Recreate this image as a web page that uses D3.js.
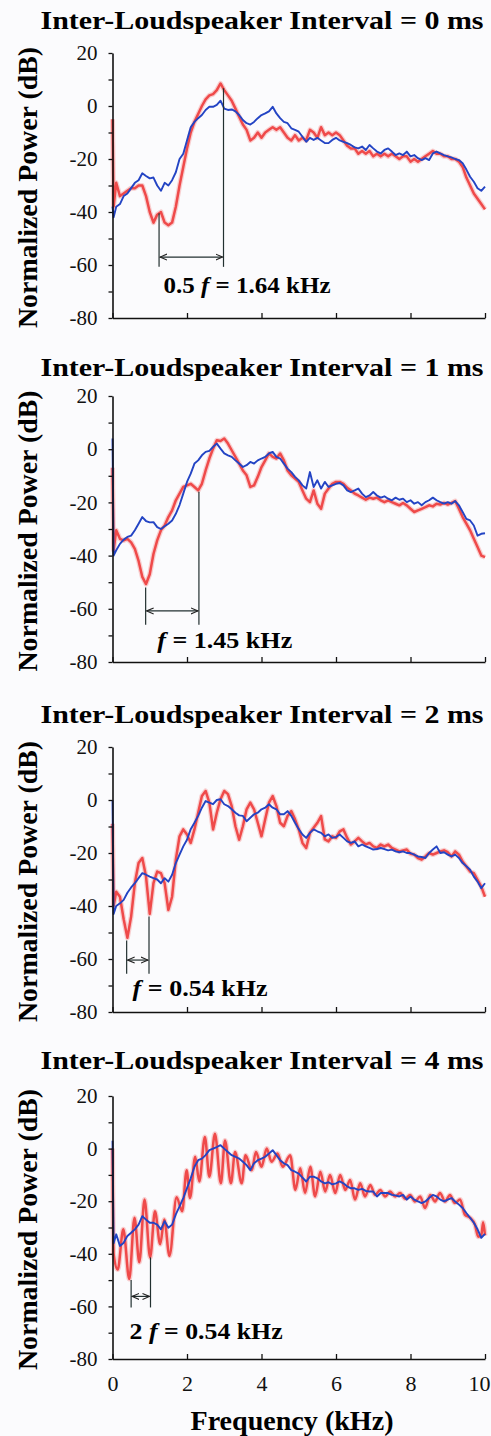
<!DOCTYPE html>
<html>
<head>
<meta charset="utf-8">
<script src="https://cdn.jsdelivr.net/npm/d3@7/dist/d3.min.js"></script>
<style>
  html, body { margin: 0; padding: 0; background: #fbfbfd; }
  svg { display: block; }
</style>
</head>
<body>
<svg id="chart" width="491" height="1436"></svg>
<script>
const SERIF = '"Liberation Serif", "Times New Roman", serif';

// Frequency grid (kHz) used by the blue curves and the red curves of panels 1-3
const freqGrid = [0, 0.03].concat(d3.range(1, 101).map(i => i / 10));

const titles = [
    "Inter-Loudspeaker Interval = 0 ms",
    "Inter-Loudspeaker Interval = 1 ms",
    "Inter-Loudspeaker Interval = 2 ms",
    "Inter-Loudspeaker Interval = 4 ms"
];

// Panel 1 (0 ms)
const blue0 = [-38, -42,
    -38, -37, -34, -33, -31, -29, -28, -25.4, -26.4, -27.3,
    -27, -30, -32, -29, -30, -28, -25, -20, -18, -13,
    -8, -6, -4.6, -3.4, -1.5, -0.3, -0.3, 0.4, 2, -1,
    -1.5, -1.3, -2, -3.4, -5.3, -6.5, -7, -6, -4.6, -3.4,
    -2.8, -2, -0.3, -2.8, -4.6, -6, -6.5, -8.4, -9, -9.7,
    -11.6, -13.5, -12, -12.8, -12, -13, -14, -14, -12.8, -12,
    -13, -13.5, -14, -14.7, -15.6, -16, -15.3, -16.6, -14.7, -16,
    -17.2, -17.9, -16.6, -16, -17.2, -18.5, -17.9, -18.5, -17.2, -19,
    -18.5, -19.7, -20.4, -19.7, -20.4, -17.9, -17.2, -17.9, -18.5, -19,
    -19.4, -20, -20.4, -21.6, -24, -26.7, -28.6, -31, -32, -30.4];
const red0 = [-5, -38,
    -29, -34, -33, -32, -31, -31, -30, -30, -34, -40,
    -44, -41, -40, -44, -45, -44, -38, -30, -23, -16,
    -10, -6, -3, 0, 2.5, 4, 4.5, 6, 8.5, 6,
    4, 2, -1, -4, -7, -9, -13, -12, -10, -12,
    -10, -9, -8, -9, -8, -10, -12, -13, -11, -13,
    -12, -13, -9, -10, -12, -8, -11, -10, -11, -10,
    -11, -13, -15, -16, -16, -18, -17, -18, -17, -19,
    -18, -19, -18, -19, -18, -19, -20, -19, -19, -21,
    -20, -21, -20, -19, -18, -17, -18, -18, -19, -19,
    -20, -20, -21, -23, -27, -30, -33, -35, -37, -39];

// Panel 2 (1 ms)
const blue1 = [4, -40,
    -38, -35.6, -34, -33, -32.5, -30.5, -28, -25.5, -27, -27.5,
    -27.4, -29.3, -30, -29, -28, -26.8, -24.3, -21, -16.7, -12.3,
    -9.2, -5.4, -4.2, -2.3, -1, -0.6, 0.9, 2.1, 0.2, -1.6,
    -2.3, -2.9, -4.2, -5.4, -6.7, -6, -4.8, -5.4, -4.2, -3.5,
    -2.9, -1.6, -1, -2.9, -3.5, -5.4, -7.3, -8.6, -10.4, -11.7,
    -13.6, -14.8, -8.6, -14.2, -11.7, -14.8, -12.3, -14.2, -13.6, -13,
    -12.7, -13.6, -15.5, -16.1, -15.5, -14.8, -16.7, -18, -17.4, -16.1,
    -17.4, -18.2, -17.7, -18.6, -19.2, -18.2, -19, -18.6, -19.9, -19.2,
    -20.5, -19.9, -21.1, -19.9, -19.2, -18.2, -19.2, -19.9, -20.5, -19.9,
    -20.5, -19.5, -21.1, -23.6, -26.2, -26.8, -28.7, -32.5, -31.8, -31.6];
const red1 = [-7, -38,
    -30.5, -33.7, -34.3, -33.7, -35, -37.5, -42, -48, -50.7, -47,
    -39.4, -34.3, -30.5, -28.7, -25.5, -23, -19.2, -16.7, -14.2, -13.6,
    -13, -14.2, -15.5, -13, -8, -3.5, 0.2, 3.4, 3.1, 4,
    2.1, -0.4, -2.9, -5.4, -8, -9.8, -14.2, -13.6, -10.4, -6.7,
    -4.2, -1.6, -2.9, -3.5, -1.6, -4.2, -8, -9.8, -11, -12.3,
    -15.5, -18.6, -19.9, -15.5, -20.5, -22.4, -16.7, -14.8, -13, -12.3,
    -12.3, -13, -14.5, -15.5, -16.7, -17.4, -18.2, -19, -18.2, -18.6,
    -18.2, -19.2, -19.9, -19.2, -19.9, -20.5, -21.1, -20.2, -21.1, -22.4,
    -23.6, -23, -22.4, -21.8, -21.1, -21.5, -20.5, -20.8, -20.2, -20.8,
    -20.2, -19.5, -22.4, -25.5, -28, -30.5, -33.7, -36.8, -40, -40.6];

// Panel 3 (2 ms)
const blue2 = [0, -43,
    -40, -39, -37.7, -35, -33, -31.4, -29.5, -27.6, -28.2, -28.9,
    -29.5, -30, -31.4, -29.5, -30.8, -28.2, -23.8, -20.6, -17.5, -15,
    -11, -8.6, -6, -2.9, -0.4, -1, -1.6, 0, 0.3, -1.6,
    -2.3, -3.5, -4.8, -5.8, -6, -8, -6.7, -5.4, -4.8, -3.5,
    -2.9, -1.6, -2.9, -3.5, -5.4, -5.4, -4.2, -6, -8.6, -11,
    -13, -14.3, -12.4, -11.1, -11.8, -12.4, -13.7, -13, -14.3, -14,
    -13, -14.3, -15.6, -16.2, -15.6, -17.5, -16.8, -17.5, -18.1, -18.7,
    -18.5, -18.1, -18.5, -19, -18.7, -19.4, -19.7, -19.4, -20, -20,
    -20.6, -21.3, -21.5, -21.9, -20, -18.7, -17.5, -20, -19.7, -20.6,
    -21.3, -20.6, -21.9, -23.8, -25, -26.3, -28.9, -30.8, -33.3, -31.4];
const red2 = [-9, -40,
    -34.6, -36.5, -45, -52, -44, -31.4, -23.8, -21.9, -28.9, -43,
    -31.4, -27, -27.6, -31.4, -41.5, -36.5, -22.5, -13.7, -11.1, -13,
    -16.2, -11.1, -4.8, 1.5, 3.4, -1, -11.1, -4.8, 0.3, 3.4,
    2.2, -2.3, -9.9, -15, -9.9, -3.5, -1, -3.5, -8.6, -13.7,
    -7.3, -1, 1.5, -2.3, -8.6, -9.9, -6, -4.2, -7.3, -11.1,
    -16.2, -18.1, -12.4, -10.5, -8.6, -6.1, -14.9, -15.6, -13.7, -14.3,
    -11.8, -11.1, -14.3, -16.8, -15.6, -14.3, -15.6, -16.8, -16.2, -17.5,
    -18.1, -16.8, -17.5, -16.8, -18.1, -18.7, -19.4, -19, -18.7, -20.3,
    -20.6, -21.9, -22.5, -21.3, -20, -20.6, -20, -19.4, -19, -19.7,
    -21.3, -19.4, -20.6, -23.2, -25.1, -27, -27.6, -30.1, -32.7, -36.5];

// Panel 4 (4 ms)
const blue3 = [3, -36,
    -32.6, -37, -35.8, -33.2, -32, -30.7, -28.9, -25.7, -27, -28.2,
    -28.2, -28.9, -30.7, -27.6, -30.1, -28.9, -25, -22, -18.8, -15,
    -11.3, -6.9, -4.4, -3.8, -2.5, -0.6, 0, 0.6, 1.3, 0,
    -1.3, -2.5, -3.1, -3.8, -5, -6.3, -8.2, -5.6, -4.4, -3.8,
    -3.1, -1.9, -0.6, -2.5, -4.4, -5.6, -6.3, -8.2, -8.8, -9.5,
    -11, -12.5, -10.7, -10.7, -11.3, -12.5, -13.2, -12.8, -13.6, -13.2,
    -12.5, -13.2, -14.4, -15.1, -15.1, -15.7, -15.3, -16.1, -16.3, -16.3,
    -18.2, -16.9, -16.9, -16.9, -17.6, -17.8, -18.2, -17.6, -19.4, -18.2,
    -19.4, -20.1, -20.7, -20.1, -18.8, -17.6, -18.2, -19.4, -20.1, -19.4,
    -18.8, -20.1, -21.3, -22.6, -24.5, -26.3, -28.2, -30.7, -33.9, -32.4];
// red curve of panel 4 is read at its own peaks and troughs
const red3Freq = [0, 0.03, 0.14, 0.29, 0.45, 0.59, 0.72, 0.86, 1.01, 1.14,
    1.28, 1.39, 1.53, 1.72, 1.87, 1.99, 2.08, 2.22, 2.33, 2.48,
    2.60, 2.75, 2.91, 3.02, 3.18, 3.29, 3.47, 3.57, 3.74, 3.85,
    4.0, 4.14, 4.27, 4.43, 4.57, 4.77, 4.91, 5.04, 5.17, 5.31,
    5.44, 5.58, 5.71, 5.84, 5.98, 6.11, 6.25, 6.38, 6.51, 6.65,
    6.78, 6.92, 7.05, 7.19, 7.32, 7.45, 7.59, 7.72, 7.86, 7.99,
    8.12, 8.26, 8.39, 8.53, 8.66, 8.79, 8.93, 9.06, 9.19, 9.33,
    9.46, 9.6, 9.73, 9.82, 9.9, 9.95, 10.0];
const red3 = [0, -40, -46, -30.7, -49.6, -26.3, -43.2, -19.4, -41.4, -23.8,
    -36.4, -27, -40.8, -18.5, -23.8, -8.2, -18.8, -3.1, -12.5, 4.4,
    -10.7, 5.6, -13.2, 3.1, -13.2, -1.3, -13.2, -2.5, -8.2, -1.3,
    -6.9, 0, -5, -1.9, -6.9, -2.5, -15.7, -7.5, -16.9, -6.9,
    -18.2, -8.8, -16.3, -10, -16.9, -10, -15.7, -11.9, -19.4, -13.2,
    -18.2, -13.8, -17.6, -15.7, -18.2, -16.3, -18.2, -16.9, -19.1, -17.6,
    -20.1, -18.2, -22.6, -17.6, -20.1, -16.9, -20.1, -17.6, -20.7, -19.4,
    -25.1, -26.3, -28.9, -33.5, -33, -28, -33];

const blueSeries = [blue0, blue1, blue2, blue3];
const redSeries = [
    freqGrid.map((f, i) => [f, red0[i]]),
    freqGrid.map((f, i) => [f, red1[i]]),
    freqGrid.map((f, i) => [f, red2[i]]),
    red3Freq.map((f, i) => [f, red3[i]])
];

const xTicks = [0, 2, 4, 6, 8, 10];
const yTicks = [20, 10, 0, -10, -20, -30, -40, -50, -60, -70, -80];

// Bracket annotations (kHz / dB)
const annLeftF = [1.25, 0.89, 0.38, 0.50];
const annLeftTop = [-40.5, -52, -53, -50];
const annRightF = [2.98, 2.32, 0.98, 1.02];
const annRightTop = [6.7, -16, -44, -41.4];
const annBottom = [-60.7, -66, -65.6, -60.4];
const annArrow = [-57, -60.8, -60.4, -56.2];
const annLabelF = [1.37, 1.2, 0.54, 0.46];
const annLabelDb = [-70.5, -74.7, -74, -72.5];
const annLabels = [["0.5 ", "f", " = 1.64 kHz"], ["", "f", " = 1.45 kHz"], ["", "f", " = 0.54 kHz"], ["2 ", "f", " = 0.54 kHz"]];

// Layout
const panelTop = [53, 396, 747, 1096];
const panelBottom = [318, 662, 1012, 1359];
const titleY = [29, 376, 723, 1069];
const annLabelWidth = [167, 135, 135, 153];
const plotLeft = 112.5, plotRight = 485;

const svg = d3.select("#chart");

const defs = svg.append("defs");
["start", "end"].forEach(k => {
    defs.append("marker")
        .attr("id", "arrow-" + k)
        .attr("viewBox", "0 0 8 8")
        .attr("refX", 7)
        .attr("refY", 4)
        .attr("markerWidth", 8)
        .attr("markerHeight", 8)
        .attr("markerUnits", "userSpaceOnUse")
        .attr("orient", k === "start" ? "auto-start-reverse" : "auto")
        .append("path")
        .attr("d", "M0,1 L7,4 L0,7")
        .attr("fill", "none")
        .attr("stroke", "#222")
        .attr("stroke-width", 1.1);
});

const x = d3.scaleLinear().domain([0, 10]).range([plotLeft, plotRight]);

titles.forEach((title, p) => {
    const y = d3.scaleLinear().domain([-80, 20]).range([panelBottom[p], panelTop[p]]);
    const g = svg.append("g").attr("font-family", SERIF);

    // Title
    g.append("text")
        .attr("x", 262)
        .attr("y", titleY[p])
        .attr("text-anchor", "middle")
        .attr("font-size", 26)
        .attr("font-weight", "bold")
        .attr("textLength", 443)
        .attr("lengthAdjust", "spacingAndGlyphs")
        .text(title);

    // Y label
    g.append("text")
        .attr("transform", `translate(37, ${(panelTop[p] + panelBottom[p]) / 2 + 2}) rotate(-90)`)
        .attr("text-anchor", "middle")
        .attr("font-size", 28)
        .attr("font-weight", "bold")
        .attr("textLength", 281)
        .attr("lengthAdjust", "spacingAndGlyphs")
        .text("Normalized Power (dB)");

    // Curves
    const line = d3.line().x(d => x(d[0])).y(d => y(d[1]));
    const redLine = p === 3 ? d3.line().x(d => x(d[0])).y(d => y(d[1])).curve(d3.curveMonotoneX) : line;
    const redPts = redSeries[p];
    g.append("path").attr("d", redLine(redPts))
        .attr("fill", "none").attr("stroke", "#f6a9a9").attr("stroke-width", 5)
        .attr("stroke-linejoin", "round").attr("opacity", 0.55);
    g.append("path").attr("d", redLine(redPts))
        .attr("fill", "none").attr("stroke", "#ef4a4a").attr("stroke-width", 2.5)
        .attr("stroke-linejoin", "round");
    const bluePts = freqGrid.map((f, i) => [f, blueSeries[p][i]]);
    g.append("path").attr("d", line(bluePts))
        .attr("fill", "none").attr("stroke", "#2344c4").attr("stroke-width", 1.9)
        .attr("stroke-linejoin", "round");

    // Axes
    const yAxis = g.append("g")
        .attr("transform", `translate(${plotLeft},0)`)
        .call(d3.axisLeft(y).tickValues(yTicks).tickSize(4).tickSizeOuter(0).tickPadding(11)
            .tickFormat(d => d % 20 === 0 ? d : ""));
    const xAxis = g.append("g")
        .attr("transform", `translate(0,${panelBottom[p]})`)
        .call(d3.axisBottom(x).tickValues(xTicks).tickSize(-5).tickSizeOuter(0).tickPadding(16)
            .tickFormat(d => p === 3 ? d : ""));
    [yAxis, xAxis].forEach(a => {
        a.attr("font-family", SERIF);
        a.select(".domain").attr("stroke", "#111").attr("stroke-width", 1.6);
        a.selectAll(".tick line").attr("stroke", "#111").attr("stroke-width", 1.3);
        a.selectAll(".tick text").attr("fill", "#111");
    });
    yAxis.attr("font-size", 21);
    xAxis.attr("font-size", 22);
    xAxis.selectAll(".tick text").filter(d => d === 10).attr("dx", -6);

    // Bracket annotation
    const ann = g.append("g").attr("stroke", "#223030").attr("stroke-width", 1.2);
    ann.append("line")
        .attr("x1", x(annLeftF[p])).attr("x2", x(annLeftF[p]))
        .attr("y1", y(annLeftTop[p])).attr("y2", y(annBottom[p]));
    ann.append("line")
        .attr("x1", x(annRightF[p])).attr("x2", x(annRightF[p]))
        .attr("y1", y(annRightTop[p])).attr("y2", y(annBottom[p]));
    ann.append("line")
        .attr("x1", x(annLeftF[p]) + 1).attr("x2", x(annRightF[p]) - 1)
        .attr("y1", y(annArrow[p])).attr("y2", y(annArrow[p]))
        .attr("marker-start", "url(#arrow-start)")
        .attr("marker-end", "url(#arrow-end)");

    const lbl = g.append("text")
        .attr("x", x(annLabelF[p]))
        .attr("y", y(annLabelDb[p]))
        .attr("font-size", 23)
        .attr("font-weight", "bold")
        .attr("textLength", annLabelWidth[p])
        .attr("lengthAdjust", "spacingAndGlyphs");
    lbl.append("tspan").text(annLabels[p][0]);
    lbl.append("tspan").attr("font-style", "italic").text(annLabels[p][1]);
    lbl.append("tspan").text(annLabels[p][2]);
});

// X axis title
svg.append("text")
    .attr("font-family", SERIF)
    .attr("x", 292)
    .attr("y", 1430)
    .attr("text-anchor", "middle")
    .attr("font-size", 28)
    .attr("font-weight", "bold")
    .attr("textLength", 203)
    .attr("lengthAdjust", "spacingAndGlyphs")
    .text("Frequency (kHz)");
</script>
</body>
</html>
